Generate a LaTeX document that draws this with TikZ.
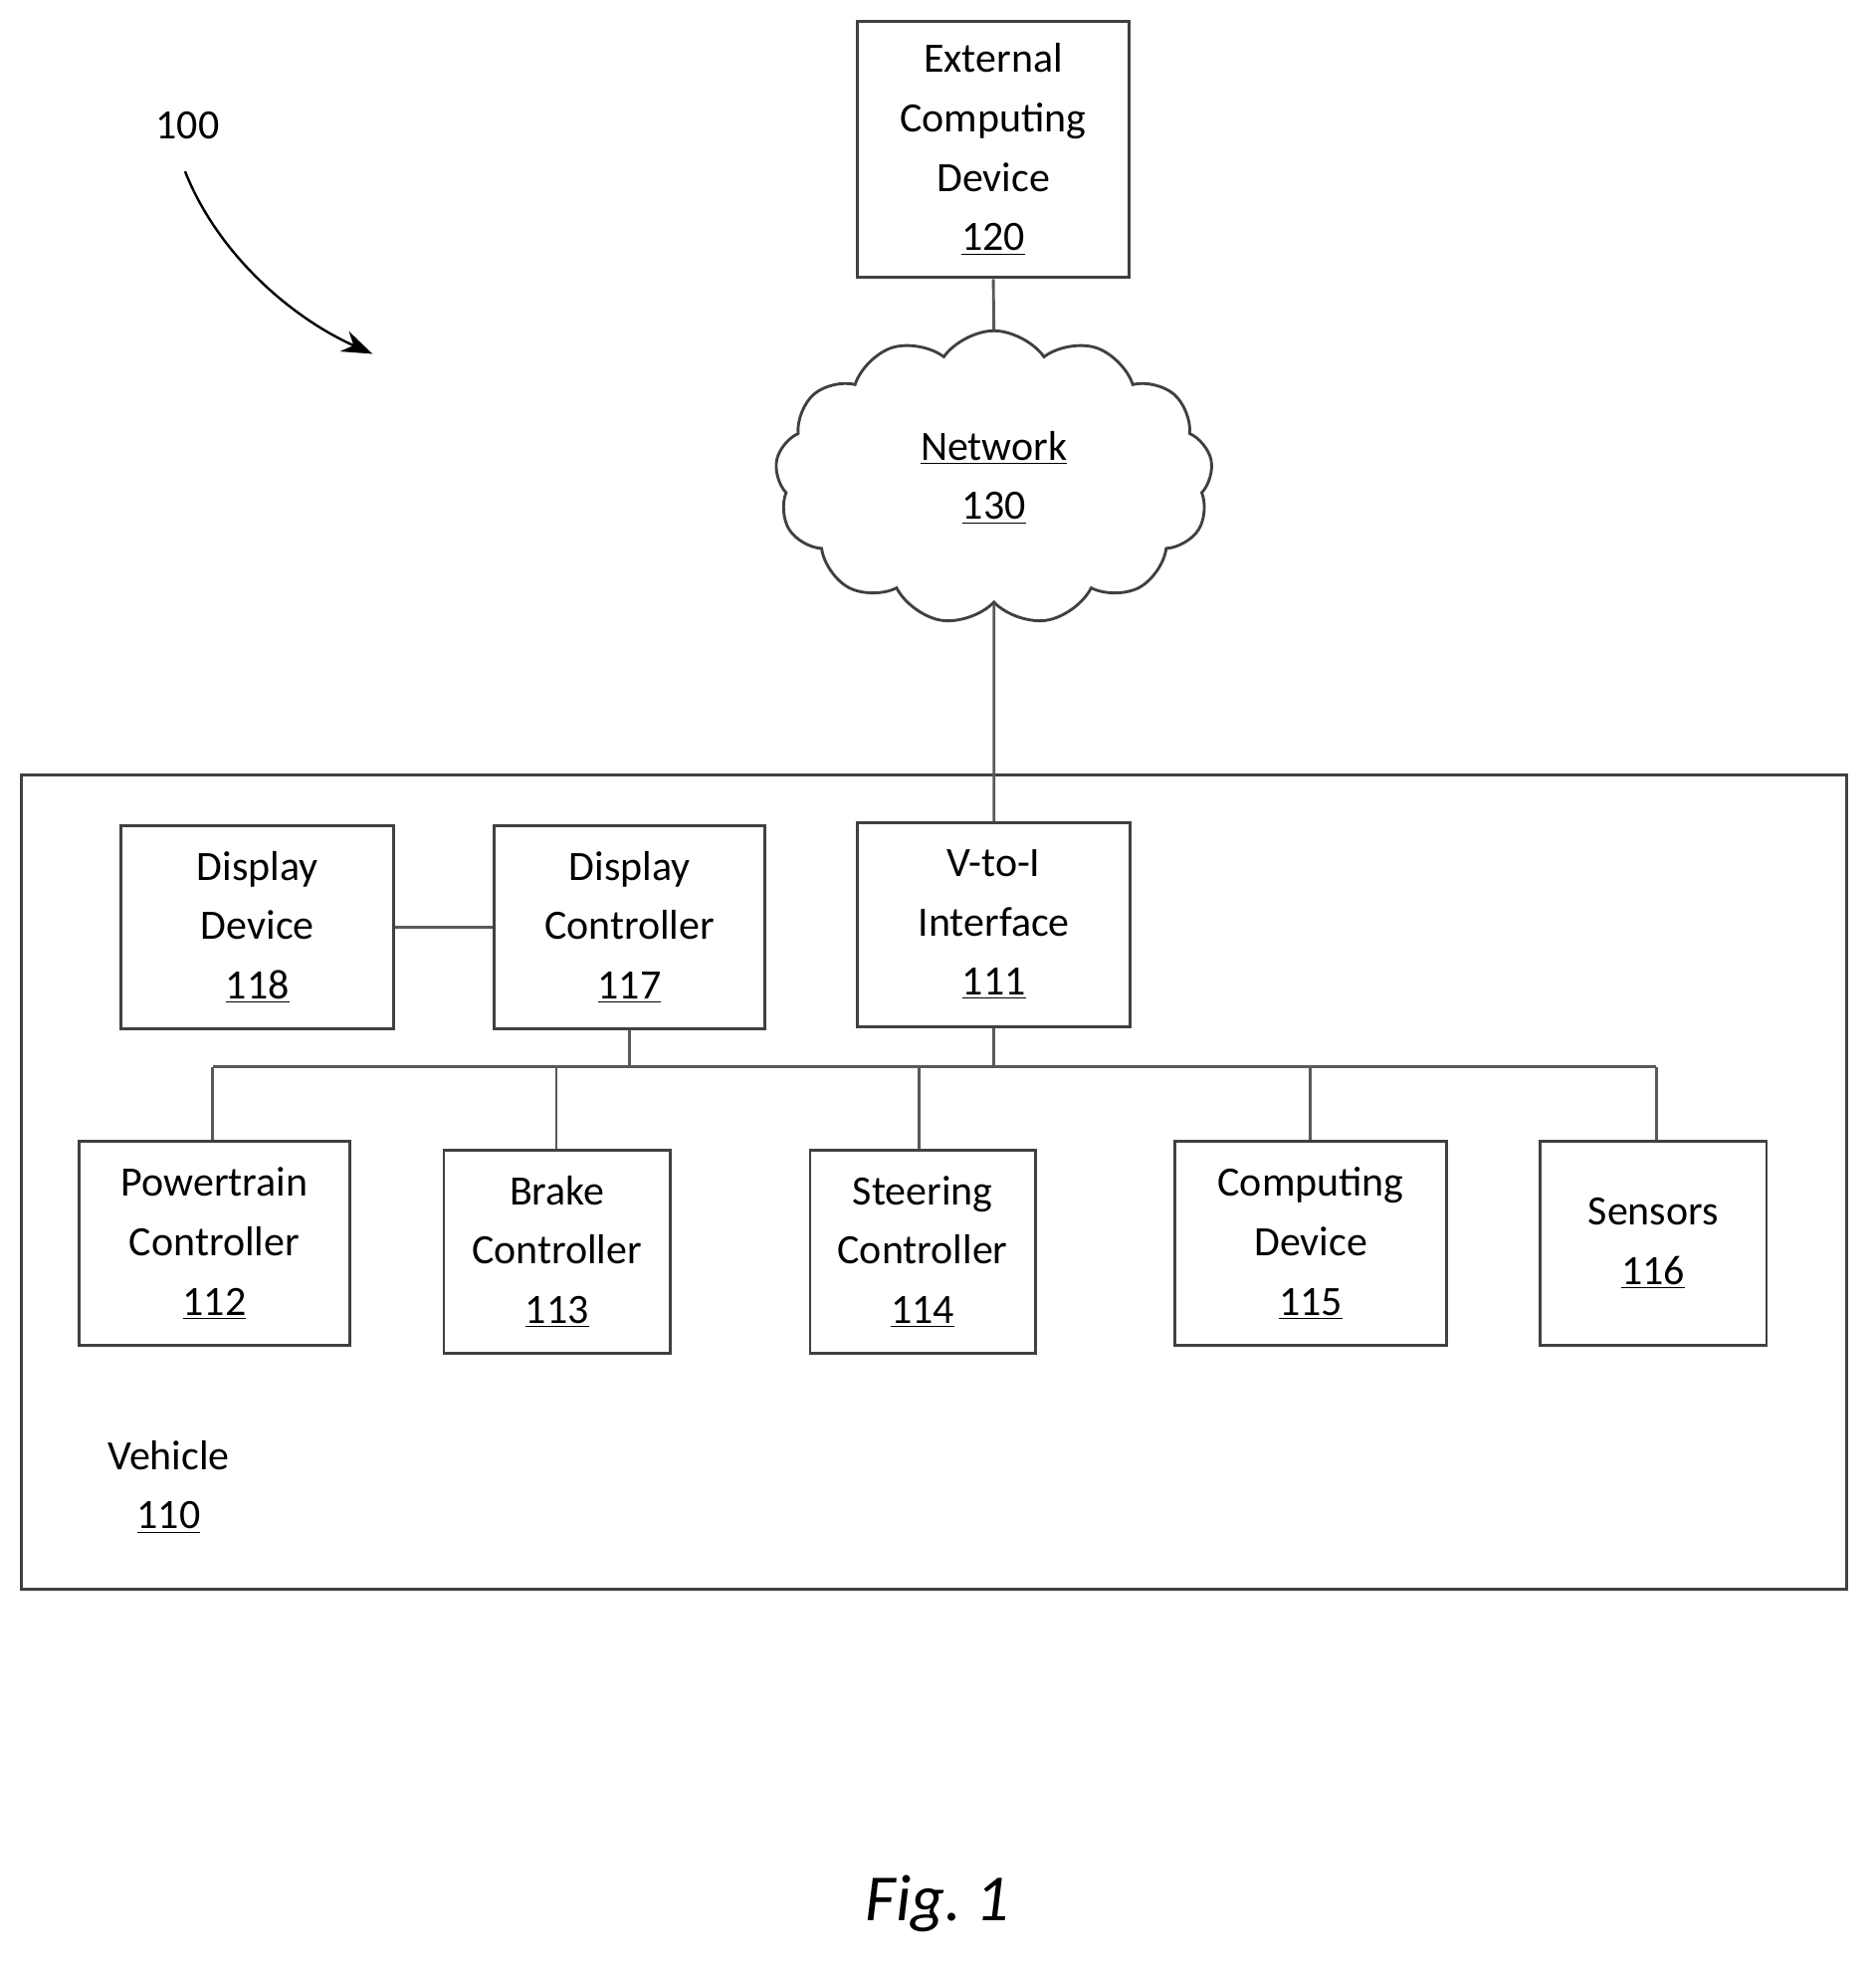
\documentclass[tikz,border=0pt]{standalone}
\usepackage{fontspec}
\setmainfont{Carlito}
\usetikzlibrary{shapes.symbols,arrows.meta}
\newcommand{\unum}[1]{\underline{#1}}
\begin{document}
\begin{tikzpicture}[
            x=0.02cm, y=-0.02cm,
            every node/.style={align=center, font=\fontsize{19}{27}\selectfont},
            box/.style={draw=black!75, line width=1.3pt, inner sep=0pt},
            wire/.style={draw=black!65, line width=1.3pt}
            ]
            \useasboundingbox (0,0) rectangle (1500,1573);
            \node[box, minimum width=217*0.02cm, minimum height=205*0.02cm] (ext) at (794.5,119.5) {External\\Computing\\Device\\\unum{120}};
            \node[cloud, draw=black!75, line width=1.3pt, cloud puffs=13, cloud puff arc=110, aspect=1.5, minimum width=350*0.02cm, minimum height=235*0.02cm] (net) at (795,382) {\unum{Network}\\\unum{130}};
            \node[box, minimum width=1460*0.02cm, minimum height=651*0.02cm] (veh) at (747,945.5) {};
            \node[box, minimum width=218*0.02cm, minimum height=163*0.02cm] (dd) at (206,741.5) {Display\\Device\\\unum{118}};
            \node[box, minimum width=217*0.02cm, minimum height=163*0.02cm] (dc) at (503.5,741.5) {Display\\Controller\\\unum{117}};
            \node[box, minimum width=218*0.02cm, minimum height=163*0.02cm] (v2i) at (795,739.5) {V-to-I\\Interface\\\unum{111}};
            \node[box, minimum width=217*0.02cm, minimum height=163*0.02cm] (pt) at (171.5,994.5) {Powertrain\\Controller\\\unum{112}};
            \node[box, minimum width=181*0.02cm, minimum height=162*0.02cm] (bc) at (445.5,1001) {Brake\\Controller\\\unum{113}};
            \node[box, minimum width=180*0.02cm, minimum height=162*0.02cm] (sc) at (738,1001) {Steering\\Controller\\\unum{114}};
            \node[box, minimum width=217*0.02cm, minimum height=163*0.02cm] (cd) at (1048.5,994.5) {Computing\\Device\\\unum{115}};
            \node[box, minimum width=181*0.02cm, minimum height=163*0.02cm] (sn) at (1322.5,994.5) {Sensors\\\unum{116}};
            \node (vlab) at (135,1189) {Vehicle\\\unum{110}};
            \node (ref) at (150,100) {100};
            \node[font=\fontsize{30}{36}\selectfont\itshape\rmfamily] (fig) at (750,1522) {Fig.\ 1};
            % connectors
            \coordinate (busl) at (170,853);
            \coordinate (busr) at (1325,853);
            \draw[wire] (ext.south) -- (net.north);
            \draw[wire] (net.south) -- (v2i.north);
            \draw[wire] (dd.east) -- (dc.west);
            \draw[wire] (busl) -- (busr);
            \draw[wire] (dc.south) -- (dc.south |- busl);
            \draw[wire] (v2i.south) -- (v2i.south |- busl);
            \foreach \n/\xx in {pt/170, bc/445, sc/735, cd/1048, sn/1325}
                \draw[wire] (\xx,853) -- (\xx,0 |- \n.north);
            \draw[line width=1.1pt, -{Stealth[length=14pt, width=10pt]}] (148,137) .. controls (175,205) and (235,255) .. (298,283);
\end{tikzpicture}
\end{document}
